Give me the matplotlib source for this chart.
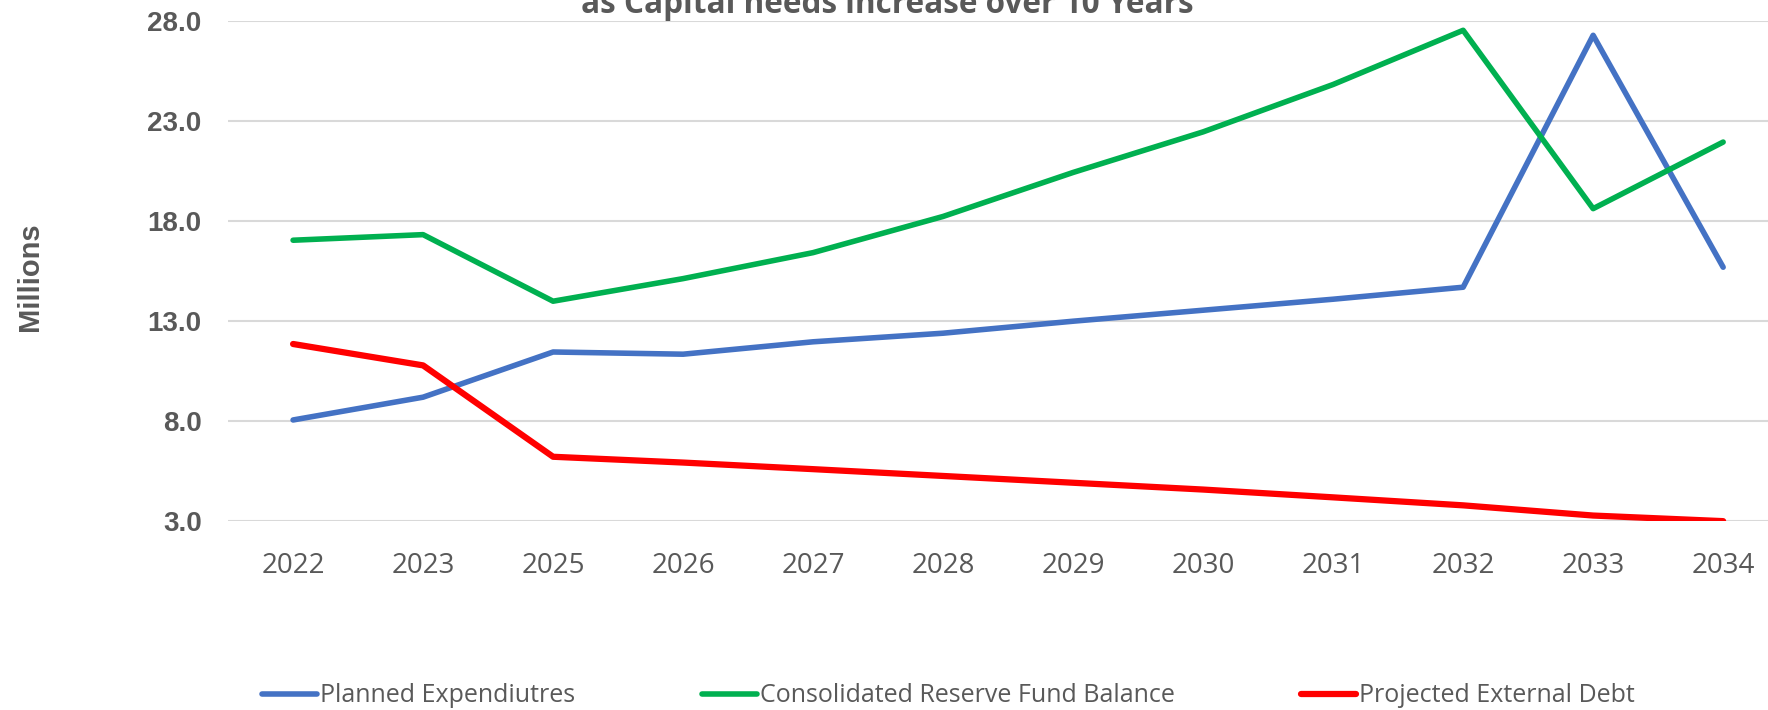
import matplotlib
matplotlib.use("Agg")
import matplotlib.pyplot as plt

years = ["2022", "2023", "2025", "2026", "2027", "2028", "2029",
         "2030", "2031", "2032", "2033", "2034"]
planned = [8.06, 9.2, 11.46, 11.35, 11.97, 12.4, 13.0, 13.55, 14.1, 14.7, 27.3, 15.7]
reserve = [17.05, 17.33, 14.0, 15.13, 16.43, 18.24, 20.44, 22.47, 24.84, 27.55, 18.63, 21.96]
debt = [11.86, 10.79, 6.22, 5.93, 5.6, 5.26, 4.92, 4.58, 4.19, 3.79, 3.28, 3.0]
yticks = [3.0, 8.0, 13.0, 18.0, 23.0, 28.0]

gray = "#595959"

fig = plt.figure(figsize=(17.68, 7.10), dpi=100)
ax = fig.add_axes([0.129, 0.266, 0.8824, 0.704])

x = list(range(len(years)))
ax.plot(x, planned, color="#4472C4", lw=4, label="Planned Expendiutres", solid_capstyle="round")
ax.plot(x, reserve, color="#00B050", lw=4, label="Consolidated Reserve Fund Balance", solid_capstyle="round")
ax.plot(x, debt, color="#FF0000", lw=4.5, label="Projected External Debt", solid_capstyle="round")

ax.set_xlim(-0.5, 11.5)
ax.set_ylim(3, 28)
ax.set_yticks(yticks)
ax.set_yticklabels(["%.1f" % v for v in yticks], fontfamily="Liberation Sans",
                   fontweight="bold", fontsize=20, color=gray)
ax.set_xticks(x)
ax.set_xticklabels(years, fontfamily="Open Sans", fontsize=20, color=gray)
ax.tick_params(axis="y", length=0, pad=19)
ax.tick_params(axis="x", length=0, pad=22)
ax.grid(axis="y", color="#D9D9D9", lw=1.5)
ax.set_axisbelow(True)
for s in ax.spines.values():
    s.set_visible(False)

fig.text(0.017, 0.611, "Millions", rotation=90, ha="center", va="center",
         fontfamily="Liberation Sans", fontweight="bold", fontsize=21, color=gray)

# title is cropped at the top in the original
fig.text(0.502, 0.981, "as Capital needs increase over 10 Years", ha="center", va="baseline",
         fontfamily="Open Sans", fontweight="bold", fontsize=22.7, color=gray)

fig.legend(loc="center", bbox_to_anchor=(0.5365, 0.02), ncol=3, frameon=False,
           prop={"family": "Open Sans", "size": 18}, labelcolor=gray,
           handlelength=2.2, handletextpad=0.12, columnspacing=5.07)

fig.savefig("out.png", dpi=100)
